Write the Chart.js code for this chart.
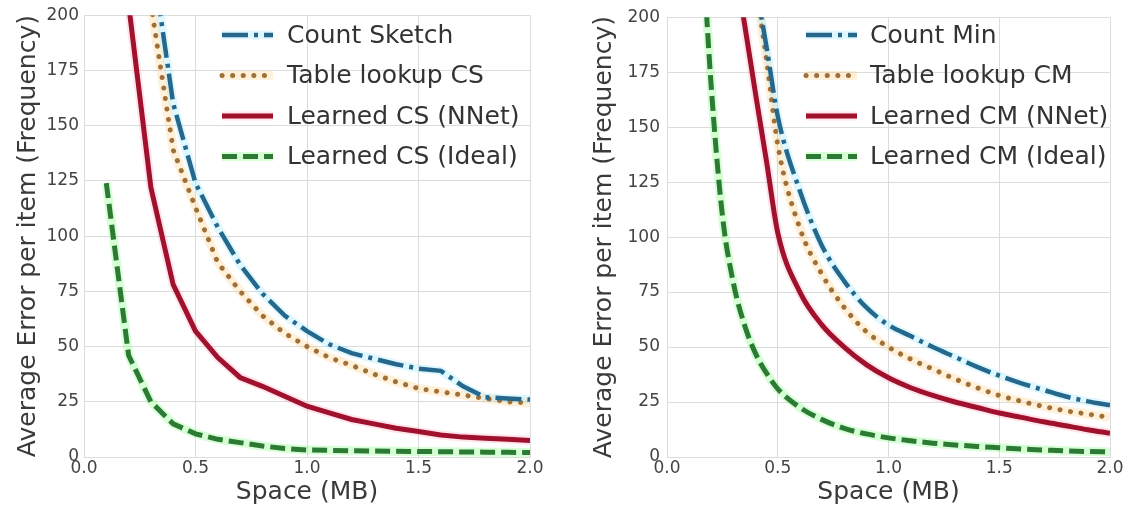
<!DOCTYPE html>
<html>
<head>
<meta charset="utf-8">
<script src="https://cdn.jsdelivr.net/npm/chart.js@4.4.1/dist/chart.umd.min.js"></script>
<style>
  html, body { margin: 0; padding: 0; background: #ffffff; }
  #wrap { position: relative; width: 1127px; height: 512px; overflow: hidden; }
  canvas { position: absolute; top: 0; }
  #csChart { left: 0; }
  #cmChart { left: 560px; }
</style>
</head>
<body>
<div id="wrap">
  <canvas id="csChart" width="560" height="512"></canvas>
  <canvas id="cmChart" width="567" height="512"></canvas>
</div>
<script>
// ---- Count Sketch panel (space in MB, average error per item) ----
const spaceCS = [0.1, 0.2, 0.3, 0.4, 0.5, 0.6, 0.7, 0.8, 0.9, 1.0,
                 1.1, 1.2, 1.3, 1.4, 1.5, 1.6, 1.7, 1.8, 1.9, 2.0];
const countSketch   = [null, null, 230, 160, 124, 104, 87, 74, 64, 57,
                       51, 47, 44.5, 42, 40, 39, 32, 27, 26.5, 26];
const tableLookupCS = [null, null, 205, 139, 113, 88, 75, 64, 56, 50,
                       45, 41.5, 37.5, 34, 31, 29.5, 28, 26.5, 25, 24.5];
const learnedCSNNet = [null, 205, 122, 78, 57, 45, 36, 32, 27.5, 23,
                       20, 17, 15, 13, 11.5, 10, 9, 8.5, 8, 7.5];
const learnedCSIdeal = [124, 46, 25, 15, 10.5, 8, 6.5, 5, 3.8, 3.2,
                        3.0, 2.8, 2.7, 2.6, 2.5, 2.4, 2.3, 2.2, 2.1, 2.0];
const seriesNamesCS = ['Count Sketch', 'Table lookup CS', 'Learned CS (NNet)', 'Learned CS (Ideal)'];

// ---- Count Min panel ----
const spaceCM = [0.15, 0.2, 0.25, 0.3, 0.35, 0.4, 0.45, 0.5, 0.6, 0.7, 0.8, 0.9, 1.0,
                 1.1, 1.2, 1.3, 1.4, 1.5, 1.6, 1.7, 1.8, 1.9, 2.0];
const countMin      = [null, null, null, null, null, 215, 186, 155, 121, 96, 80, 68, 60,
                       55, 50, 45.5, 41, 37, 33.5, 30.5, 27.5, 25.3, 23.5];
const tableLookupCM = [null, null, null, null, null, 215, 180, 142, 104, 83, 68, 57, 50,
                       44.5, 40, 35.5, 31.5, 28, 25.3, 23, 21, 19.5, 18];
const learnedCMNNet = [null, null, null, 228, 197, 165, 134, 102, 75, 60, 50, 42, 36,
                       31.5, 28, 25, 22.5, 20, 18, 16, 14.2, 12.4, 10.8];
const learnedCMIdeal = [250, 168, 110, 79, 60, 47, 38, 31, 22.5, 17, 13, 10.5, 8.7,
                        7.4, 6.3, 5.5, 4.8, 4.2, 3.6, 3.2, 2.8, 2.5, 2.3];
const seriesNamesCM = ['Count Min', 'Table lookup CM', 'Learned CM (NNet)', 'Learned CM (Ideal)'];

// ---- axis ticks ----
const spaceTicks = [0, 0.5, 1.0, 1.5, 2.0];
const errorTicks = [0, 25, 50, 75, 100, 125, 150, 175, 200];

// line looks: dash-dot blue, dotted orange, solid red, dashed green
const LOOKS = [
  { color: '#25688c', halo: 'rgba(150,228,255,0.30)', width: 4.5, dash: [26, 6, 4, 6], cap: 'butt' },
  { color: '#9f7038', halo: 'rgba(255,200,120,0.28)', width: 5, dash: [0.1, 10.5], cap: 'round' },
  { color: '#a0112e', halo: 'rgba(255,130,160,0.22)', width: 5, dash: [], cap: 'butt' },
  { color: '#2d7a35', halo: 'rgba(120,255,120,0.30)', width: 5, dash: [15, 6], cap: 'butt' }
];

Chart.defaults.font.family = '"DejaVu Sans", sans-serif';

function toPoints(xs, ys) {
  const pts = [];
  xs.forEach((x, i) => { if (ys[i] !== null) pts.push({ x: x, y: ys[i] }); });
  return pts;
}

function buildDatasets(xs, seriesList, names, smooth) {
  const sets = [];
  seriesList.forEach((ys, i) => {
    const look = LOOKS[i];
    const pts = toPoints(xs, ys);
    // soft glow underneath each curve
    sets.push({
      label: names[i] + ' glow', isGlow: true, data: pts, order: 2,
      borderColor: look.halo, borderWidth: look.width + 4, pointRadius: 0,
      fill: false, tension: 0, cubicInterpolationMode: smooth ? 'monotone' : 'default',
      clip: 0
    });
    sets.push({
      label: names[i], data: pts, order: 1, look: look,
      borderColor: look.color, borderWidth: look.width, borderDash: look.dash,
      borderCapStyle: look.cap, pointRadius: 0, fill: false, tension: 0,
      cubicInterpolationMode: smooth ? 'monotone' : 'default', clip: 0
    });
  });
  return sets;
}

// legend placed inside the plot, top right
const insideLegend = {
  id: 'insideLegend',
  afterDatasetsDraw(chart, args, opts) {
    const ctx = chart.ctx;
    const items = chart.data.datasets.filter(d => !d.isGlow);
    ctx.save();
    items.forEach((ds, i) => {
      const y = opts.top + i * opts.gap;
      const look = ds.look;
      ctx.setLineDash([]);
      ctx.lineCap = 'butt';
      ctx.strokeStyle = look.halo;
      ctx.lineWidth = look.width + 4;
      ctx.beginPath(); ctx.moveTo(opts.x0, y); ctx.lineTo(opts.x1, y); ctx.stroke();
      ctx.setLineDash(look.dash);
      ctx.lineDashOffset = 0;
      ctx.lineCap = look.cap;
      ctx.strokeStyle = look.color;
      ctx.lineWidth = look.width;
      ctx.beginPath(); ctx.moveTo(opts.x0, y); ctx.lineTo(opts.x1, y); ctx.stroke();
      ctx.setLineDash([]);
      ctx.fillStyle = '#333333';
      ctx.font = '25px "DejaVu Sans"';
      ctx.textAlign = 'left';
      ctx.textBaseline = 'middle';
      ctx.fillText(ds.label, opts.tx, y + 1);
    });
    ctx.restore();
  }
};

function makeChart(id, xs, seriesList, names, smooth, geom) {
  const gridColor = '#dcdcdc';
  return new Chart(document.getElementById(id), {
    type: 'line',
    data: { datasets: buildDatasets(xs, seriesList, names, smooth) },
    plugins: [insideLegend],
    options: {
      responsive: false,
      devicePixelRatio: 1,
      animation: false,
      events: [],
      layout: { padding: { left: 0, right: geom.padRight, top: 15, bottom: 0 } },
      plugins: {
        legend: { display: false },
        tooltip: { enabled: false },
        insideLegend: geom.legend
      },
      scales: {
        x: {
          type: 'linear', min: 0, max: 2,
          afterBuildTicks: s => { s.ticks = spaceTicks.map(v => ({ value: v })); },
          afterFit: s => { s.height = 55; },
          ticks: { color: '#444444', font: { size: 17 }, padding: 1,
                   callback: v => Number(v).toFixed(1), maxRotation: 0 },
          grid: { color: gridColor, lineWidth: 1, drawTicks: false },
          border: { color: gridColor },
          title: { display: true, text: 'Space (MB)', color: '#3a3a3a',
                   font: { size: 25 }, padding: { top: 0, bottom: 5 } }
        },
        y: {
          type: 'linear', min: 0, max: 200,
          afterBuildTicks: s => { s.ticks = errorTicks.map(v => ({ value: v })); },
          afterFit: s => { s.width = geom.yWidth; },
          ticks: { color: '#444444', font: { size: 17 }, padding: geom.tickPad },
          grid: { color: gridColor, lineWidth: 1, drawTicks: false },
          border: { color: gridColor },
          title: { display: true, text: 'Average Error per item (Frequency)', color: '#3a3a3a',
                   font: { size: 25 }, padding: { top: geom.titlePad, bottom: 0 } }
        }
      }
    }
  });
}

makeChart('csChart', spaceCS,
  [countSketch, tableLookupCS, learnedCSNNet, learnedCSIdeal], seriesNamesCS, false,
  { padRight: 30, yWidth: 84, tickPad: 5, titlePad: 13,
    legend: { x0: 222, x1: 273, tx: 287, top: 35, gap: 40.5 } });

makeChart('cmChart', spaceCM,
  [countMin, tableLookupCM, learnedCMNNet, learnedCMIdeal], seriesNamesCM, true,
  { padRight: 17, yWidth: 107, tickPad: 7, titlePad: 29,
    legend: { x0: 246, x1: 297, tx: 310, top: 35, gap: 40.5 } });
</script>
</body>
</html>
